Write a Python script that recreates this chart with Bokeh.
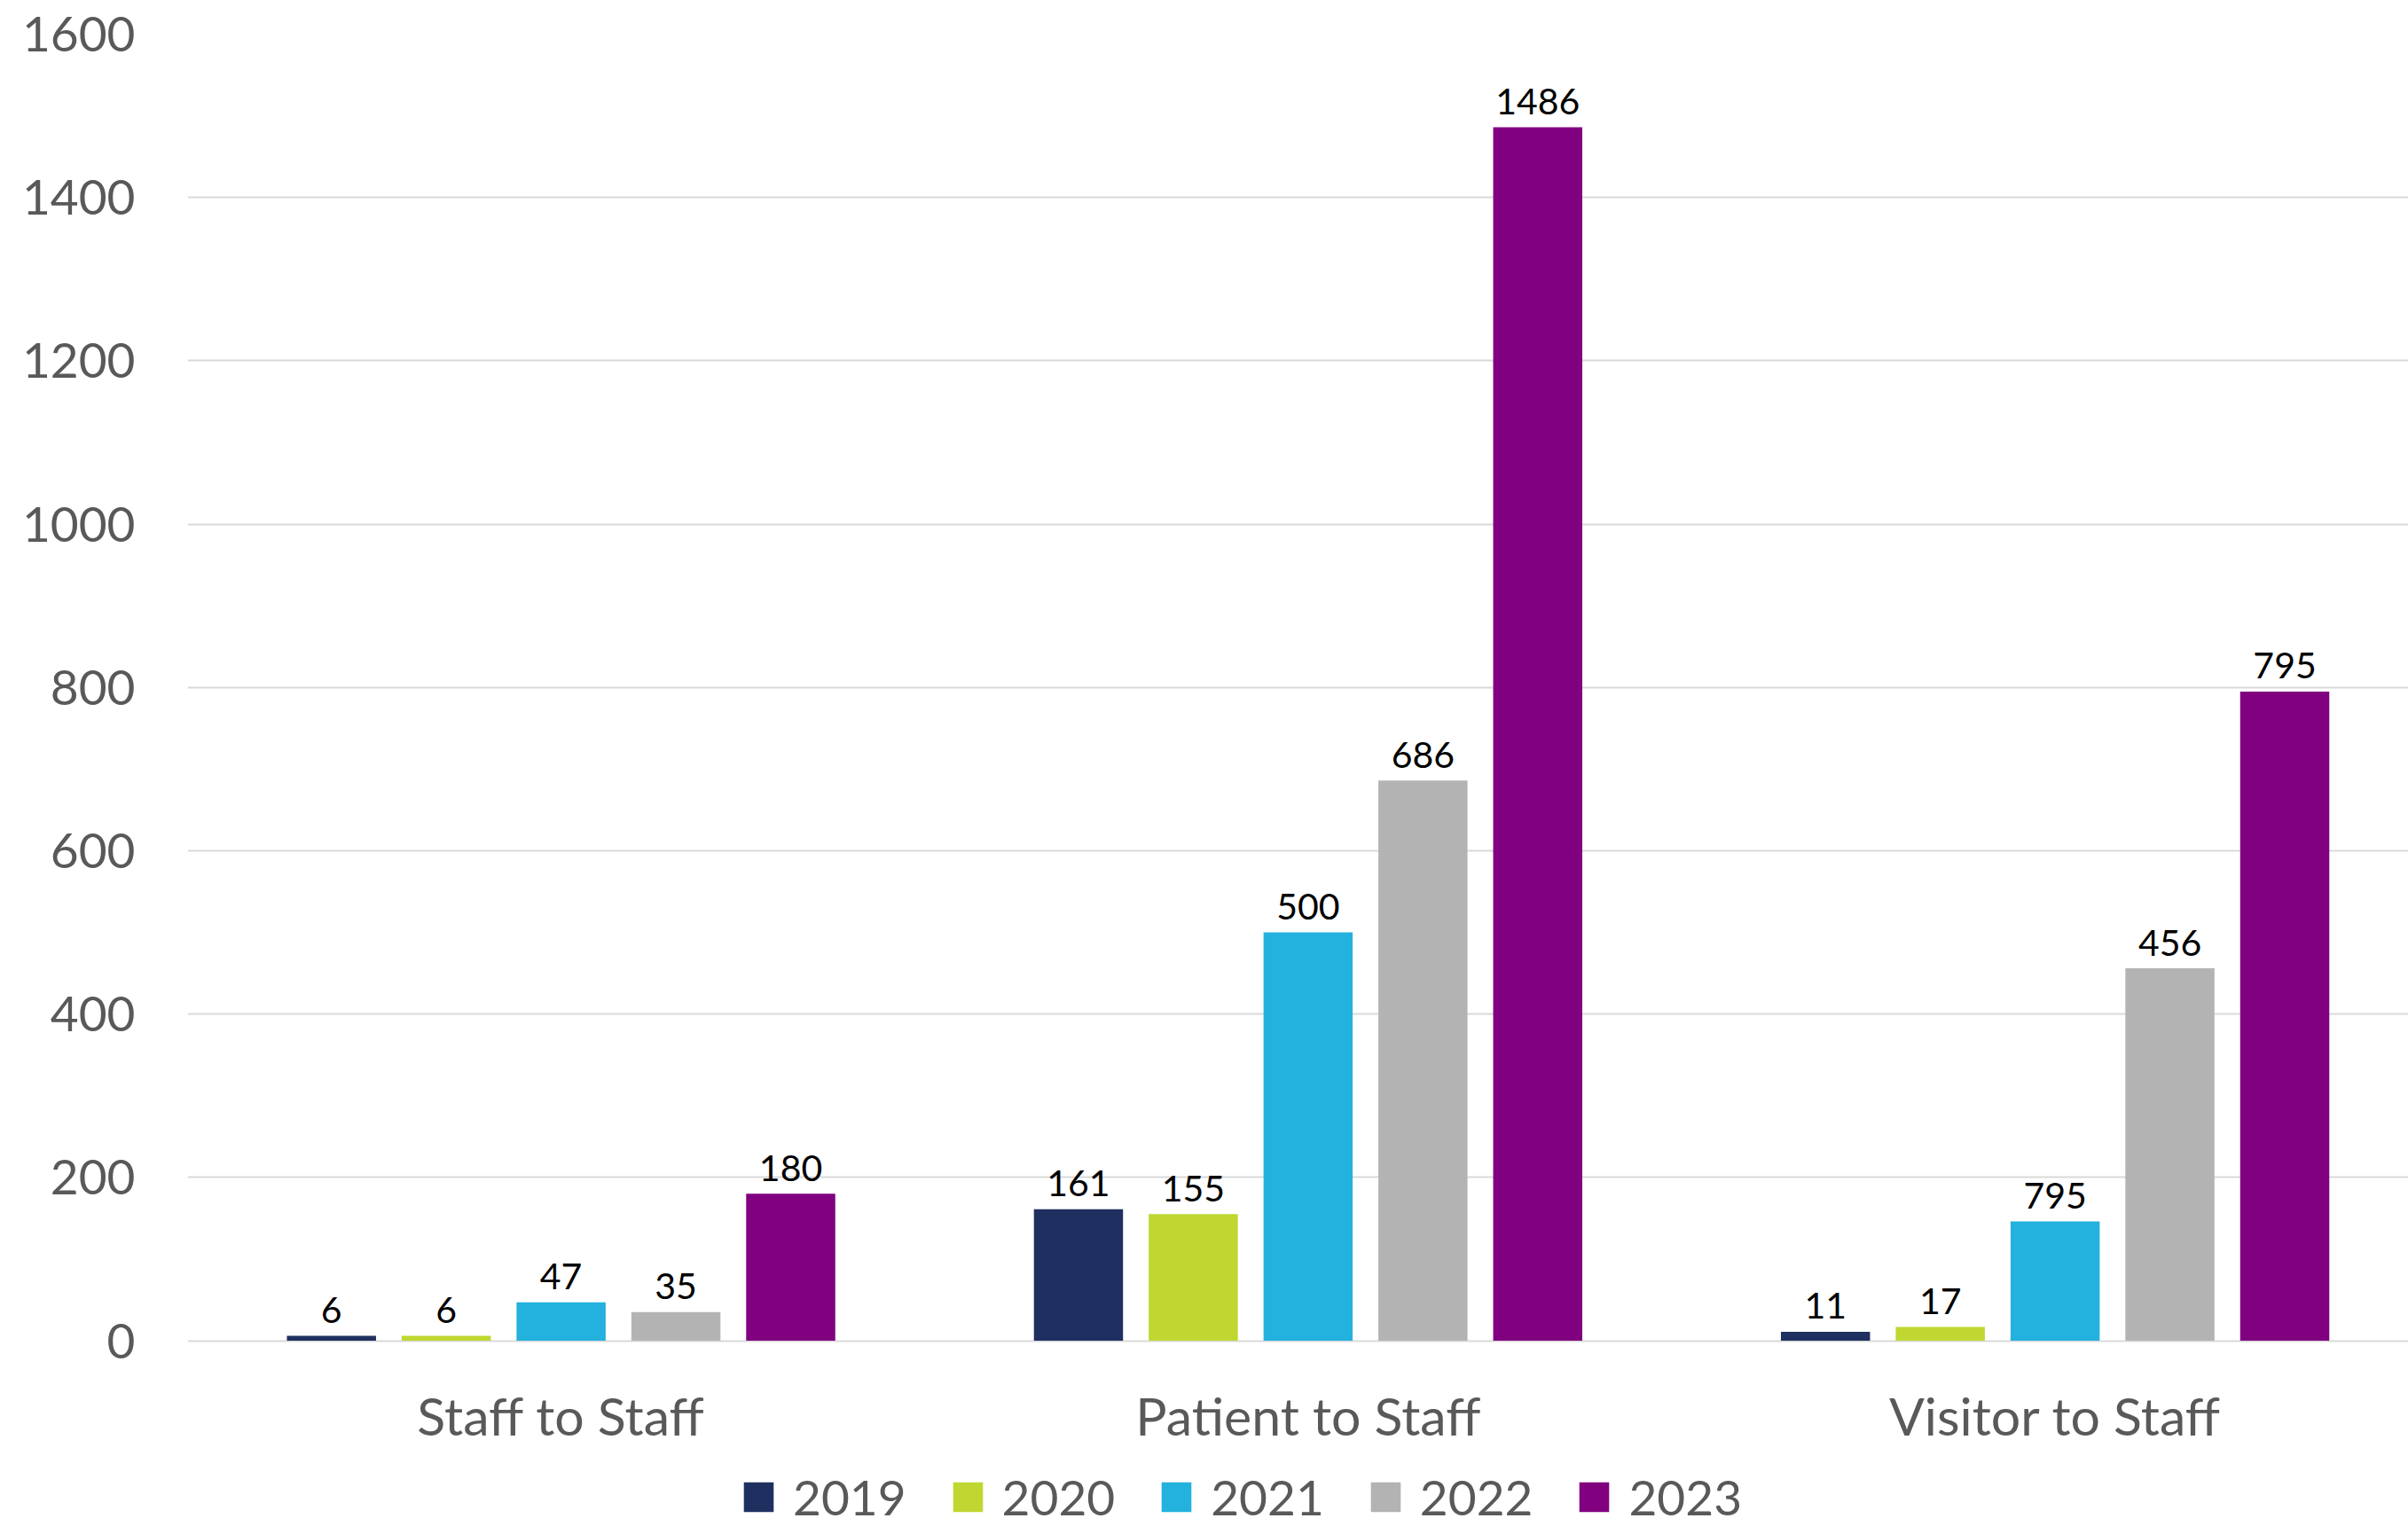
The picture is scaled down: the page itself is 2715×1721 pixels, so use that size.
from bokeh.plotting import figure
from bokeh.models import ColumnDataSource, Legend, LegendItem, FixedTicker, Range1d
from bokeh.core.properties import value
from bokeh.embed import file_html
from bokeh.resources import INLINE

categories = ["Staff to Staff", "Patient to Staff", "Visitor to Staff"]
years = ["2019", "2020", "2021", "2022", "2023"]
v2019 = [6, 161, 11]
v2020 = [6, 155, 17]
v2021 = [47, 500, 146]
v2022 = [35, 686, 456]
v2023 = [180, 1486, 795]
lab2019 = ["6", "161", "11"]
lab2020 = ["6", "155", "17"]
lab2021 = ["47", "500", "795"]
lab2022 = ["35", "686", "456"]
lab2023 = ["180", "1486", "795"]
y_ticks = [0, 200, 400, 600, 800, 1000, 1200, 1400, 1600]

series = [v2019, v2020, v2021, v2022, v2023]
labels = [lab2019, lab2020, lab2021, lab2022, lab2023]
colors = ["#1F3060", "#BFD730", "#23B1DD", "#B3B3B3", "#800080"]

FONT = "Lato"
STEP = 0.1537
BAR_W = 0.1193

p = figure(width=2715, height=1721, output_backend="svg", toolbar_location=None,
           x_range=Range1d(-0.5, 2.473), y_range=Range1d(-227.4, 1600),
           x_axis_location=None,
           min_border_left=211, min_border_right=0, min_border_top=38,
           min_border_bottom=0)
p.outline_line_color = None
p.background_fill_color = "white"
p.border_fill_color = "white"

items = []
for k, (vals, labs, col, yr) in enumerate(zip(series, labels, colors, years)):
    xs = [i + (k - 2) * STEP for i in range(len(categories))]
    src = ColumnDataSource(dict(x=xs, top=vals, lab=labs))
    r = p.vbar(x="x", top="top", width=BAR_W, bottom=0, source=src,
               fill_color=col, line_color=None)
    p.text(x="x", y="top", text="lab", source=src, text_align="center",
           text_baseline="middle", y_offset=-29, text_font=value(FONT),
           text_font_size="41px", text_color="black")
    items.append(LegendItem(label=yr, renderers=[r]))

# category labels under the baseline
cat_src = ColumnDataSource(dict(x=list(range(len(categories))),
                                y=[0] * len(categories), t=categories))
p.text(x="x", y="y", text="t", source=cat_src, text_align="center",
       text_baseline="middle", y_offset=84, text_font=value(FONT),
       text_font_size="59px", text_color="#595959")

p.xgrid.visible = False
p.ygrid.ticker = FixedTicker(ticks=y_ticks)
p.ygrid.grid_line_color = "#D9D9D9"
p.ygrid.grid_line_width = 2

p.yaxis.ticker = FixedTicker(ticks=y_ticks)
p.yaxis.axis_line_color = None
p.yaxis.major_tick_line_color = None
p.yaxis.minor_tick_line_color = None
p.yaxis.major_tick_out = 0
p.yaxis.major_label_standoff = 59
p.yaxis.major_label_text_font = FONT
p.yaxis.major_label_text_font_size = "55px"
p.yaxis.major_label_text_color = "#595959"

legend = Legend(items=items, orientation="horizontal", location=(623, 0),
                glyph_width=42, glyph_height=42, label_standoff=18, spacing=48,
                label_text_font=FONT, label_text_font_size="55px",
                label_text_color="#595959", border_line_color=None,
                background_fill_alpha=0, padding=0, margin=0)
p.add_layout(legend)

open("out.html", "w").write(file_html(p, INLINE))
